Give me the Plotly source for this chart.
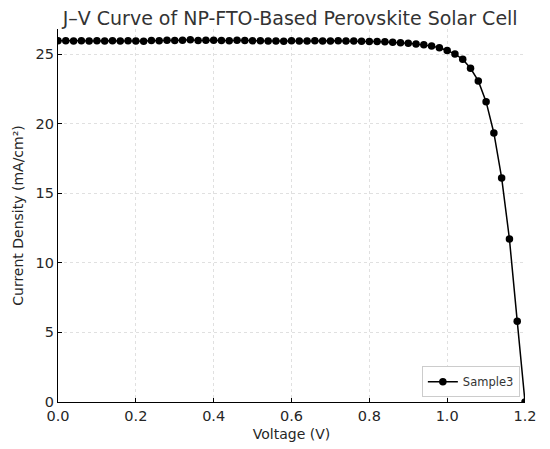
import plotly.graph_objects as go

# J-V data for Sample3
voltage = [
    0.00, 0.02, 0.04, 0.06, 0.08, 0.10, 0.12, 0.14, 0.16, 0.18,
    0.20, 0.22, 0.24, 0.26, 0.28, 0.30, 0.32, 0.34, 0.36, 0.38,
    0.40, 0.42, 0.44, 0.46, 0.48, 0.50, 0.52, 0.54, 0.56, 0.58,
    0.60, 0.62, 0.64, 0.66, 0.68, 0.70, 0.72, 0.74, 0.76, 0.78,
    0.80, 0.82, 0.84, 0.86, 0.88, 0.90, 0.92, 0.94, 0.96, 0.98,
    1.00, 1.02, 1.04, 1.06, 1.08, 1.10, 1.12, 1.14, 1.16, 1.18,
    1.20,
]
current_density = [
    25.95, 25.96, 25.94, 25.95, 25.93, 25.95, 25.94, 25.96, 25.93, 25.95,
    25.94, 25.92, 25.97, 25.95, 25.99, 25.97, 26.00, 26.02, 25.98, 26.00,
    25.99, 25.98, 25.96, 26.00, 25.97, 25.95, 25.96, 25.93, 25.94, 25.92,
    25.95, 25.93, 25.94, 25.95, 25.93, 25.94, 25.96, 25.93, 25.94, 25.92,
    25.91, 25.90, 25.88, 25.85, 25.82, 25.77, 25.72, 25.66, 25.57, 25.45,
    25.26, 25.00, 24.63, 23.98, 23.07, 21.58, 19.33, 16.10, 11.71, 5.81,
    0.00,
]
series_name = "Sample3"

x_ticks = [0.0, 0.2, 0.4, 0.6, 0.8, 1.0, 1.2]
y_ticks = [0, 5, 10, 15, 20, 25]

font = "DejaVu Sans"
text_color = "#262626"

fig = go.Figure()
fig.add_trace(go.Scatter(
    x=voltage,
    y=current_density,
    mode="lines+markers",
    name=series_name,
    line=dict(color="black", width=1.5),
    marker=dict(color="black", size=7.5),
))

axis_common = dict(
    showline=True,
    linecolor="black",
    linewidth=1.3,
    mirror=False,
    ticks="inside",
    ticklen=4,
    tickcolor="black",
    showgrid=True,
    gridcolor="#e0e0e0",
    griddash="dot",
    gridwidth=1,
    zeroline=False,
    automargin=False,
    tickfont=dict(family=font, size=14.5, color=text_color),
)

# the page body adds an 8px offset, so margins are shifted to compensate
fig.update_layout(
    width=550,
    height=449,
    paper_bgcolor="white",
    plot_bgcolor="white",
    margin=dict(l=50, r=33, t=21, b=55, autoexpand=False),
    title=dict(
        text="J–V Curve of NP-FTO-Based Perovskite Solar Cell",
        x=0.513,
        xanchor="center",
        y=0.978,
        yanchor="middle",
        font=dict(family=font, size=19, color="#333333"),
    ),
    xaxis=dict(
        axis_common,
        range=[0, 1.2],
        tickvals=x_ticks,
        ticktext=[f"{v:.1f}" for v in x_ticks],
        title=dict(text="Voltage (V)", font=dict(family=font, size=14, color=text_color),
                   standoff=6),
    ),
    yaxis=dict(
        axis_common,
        range=[0, 26.8],
        tickvals=y_ticks,
        title=dict(text="Current Density (mA/cm²)",
                   font=dict(family=font, size=14, color=text_color), standoff=8),
    ),
    showlegend=True,
    legend=dict(
        x=0.989,
        y=0.013,
        xanchor="right",
        yanchor="bottom",
        bgcolor="white",
        bordercolor="#cccccc",
        borderwidth=1,
        font=dict(family=font, size=11.5, color="#333333"),
    ),
)

fig.write_html("out.html")
